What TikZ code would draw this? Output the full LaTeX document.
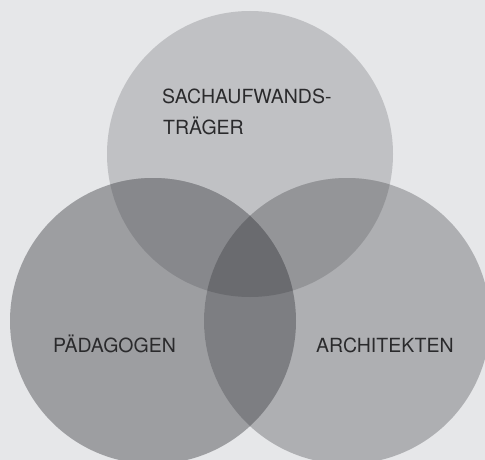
\documentclass[tikz,border=0pt]{standalone}
\usepackage{fontspec}
\setmainfont{TeX Gyre Heros}

\definecolor{paper}{HTML}{E6E7E9}
\definecolor{topgray}{HTML}{C0C1C4}
\definecolor{leftgray}{HTML}{9D9EA1}
\definecolor{rightgray}{HTML}{AEAFB2}
\definecolor{tlgray}{HTML}{87888C}
\definecolor{trgray}{HTML}{949598}
\definecolor{lrgray}{HTML}{7D7E82}
\definecolor{midgray}{HTML}{6A6B6F}
\definecolor{labeltext}{HTML}{2A2A2C}

\begin{document}
\begin{tikzpicture}[x = 1pt, y = -1pt, every node/.style={font=\fontsize{19.5}{23}\selectfont, text=labeltext, inner sep=0pt, anchor=base west}]
        \useasboundingbox (0, 0) rectangle (485, 460);
        \clip (0, 0) rectangle (485, 460);
        \fill[paper] (0, 0) rectangle (485, 460);

        \coordinate (top) at (250, 154);
        \coordinate (left) at (153, 321);
        \coordinate (right) at (347, 321);

        \foreach \c/\col in {top/topgray, left/leftgray, right/rightgray}{
                \fill[\col] (\c) circle (143pt);
            }

        \begin{scope}
            \clip (top) circle (143pt);
            \fill[tlgray] (left) circle (143pt);
            \fill[trgray] (right) circle (143pt);
        \end{scope}
        \begin{scope}
            \clip (left) circle (143pt);
            \fill[lrgray] (right) circle (143pt);
            \clip (top) circle (143pt);
            \fill[midgray] (right) circle (143pt);
        \end{scope}

        \node (sach) at (162, 103) {SACHAUFWANDS-};
        \node (traeger) at (163, 135) {TRÄGER};
        \node (paed) at (53, 352) {PÄDAGOGEN};
        \node (arch) at (316, 352) {ARCHITEKTEN};
    \end{tikzpicture}
\end{document}
